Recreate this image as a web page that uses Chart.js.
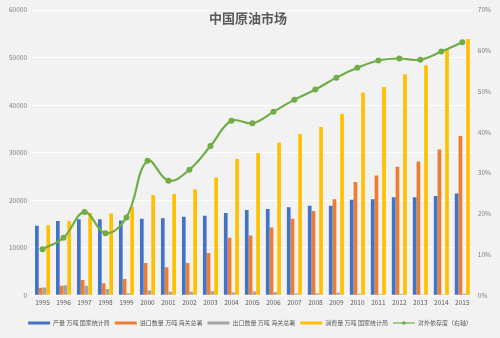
<!DOCTYPE html>
<html>
<head>
<meta charset="utf-8">
<script src="https://cdn.jsdelivr.net/npm/chart.js@4/dist/chart.umd.min.js"></script>
<style>
  html, body { margin: 0; padding: 0; background: #f2f2f2; }
  #wrap { width: 500px; height: 338px; }
</style>
</head>
<body>
<div id="wrap"><canvas id="myChart"></canvas></div>
<script>
const years = ["1995", "1996", "1997", "1998", "1999", "2000", "2001", "2002", "2003", "2004", "2005",
  "2006", "2007", "2008", "2009", "2010", "2011", "2012", "2013", "2014", "2015"];

// 万吨
const production = [14600, 15600, 16000, 16000, 15700, 16100, 16200, 16500, 16700, 17300, 17900,
  18150, 18500, 18800, 18800, 20100, 20200, 20600, 20600, 20850, 21400];
const imports = [1550, 1980, 3200, 2500, 3400, 6750, 5900, 6750, 8870, 12060, 12550,
  14250, 16100, 17700, 20200, 23800, 25200, 27000, 28150, 30650, 33500];
const exports = [1640, 2100, 2000, 1280, 420, 1000, 750, 720, 810, 550, 800,
  630, 380, 420, 500, 300, 250, 240, 160, 60, 290];
const consumption = [14700, 15600, 17300, 17200, 18600, 21100, 21300, 22300, 24750, 28650, 29900,
  32100, 33900, 35400, 38100, 42600, 43800, 46500, 48400, 51800, 53900];

// 对外依存度, %
const dependence = [11.3, 14.1, 20.4, 15.2, 19.1, 33.0, 28.1, 30.8, 36.6, 42.8, 42.2,
  45.0, 48.0, 50.5, 53.4, 55.8, 57.6, 58.1, 57.8, 59.8, 62.1];

const leftTicks = [0, 10000, 20000, 30000, 40000, 50000, 60000];
const rightTicks = [0, 10, 20, 30, 40, 50, 60, 70];

const font = "'Noto Sans CJK SC', 'Noto Sans', sans-serif";
const green = "#70ad47";

// title sits inside the plot area, so draw it by hand;
// also put a marker dot on the line's legend sample
const extrasPlugin = {
  id: "extras",
  afterDraw(chart) {
    const ctx = chart.ctx;
    ctx.save();
    ctx.font = "bold 13px " + font;
    ctx.fillStyle = "#595959";
    ctx.textAlign = "center";
    ctx.textBaseline = "middle";
    ctx.fillText("中国原油市场", 248, 18);

    const legend = chart.legend;
    const items = legend.legendItems;
    const boxes = legend.legendHitBoxes;
    const bw = legend.options.labels.boxWidth;
    items.forEach((item, i) => {
      if (item.datasetIndex !== 4) return;
      const b = boxes[i];
      ctx.fillStyle = green;
      ctx.beginPath();
      ctx.arc(b.left + bw / 2, b.top + b.height / 2, 1.8, 0, Math.PI * 2);
      ctx.fill();
    });
    ctx.restore();
  },
};

function barSet(label, data, color) {
  return {
    type: "bar",
    label: label,
    data: data,
    backgroundColor: color,
    borderWidth: 0,
    yAxisID: "y",
    order: 1,
    categoryPercentage: 0.72,
    barPercentage: 0.98,
  };
}

const ctx = document.getElementById("myChart").getContext("2d");
const myChart = new Chart(ctx, {
  data: {
    labels: years,
    datasets: [
      barSet("产量 万吨 国家统计局", production, "#4472c4"),
      barSet("进口数量 万吨 海关总署", imports, "#ed7d31"),
      barSet("出口数量 万吨 海关总署", exports, "#a5a5a5"),
      barSet("消费量 万吨 国家统计局", consumption, "#ffc000"),
      {
        type: "line",
        label: "对外依存度（右轴）",
        data: dependence,
        borderColor: green,
        backgroundColor: green,
        borderWidth: 2.2,
        tension: 0.4,
        pointRadius: 3,
        pointBorderWidth: 0,
        yAxisID: "y1",
        order: 0,
      },
    ],
  },
  options: {
    responsive: true,
    maintainAspectRatio: false,
    animation: false,
    layout: { padding: { left: 4, right: 4, top: 10, bottom: 2 } },
    plugins: {
      tooltip: { enabled: false },
      legend: {
        position: "bottom",
        labels: {
          usePointStyle: true,
          pointStyleWidth: 22,
          boxWidth: 22,
          boxHeight: 3,
          padding: 5,
          color: "#595959",
          font: { size: 6, family: font },
          sort: (a, b) => a.datasetIndex - b.datasetIndex,
          generateLabels: (chart) => {
            const items = Chart.defaults.plugins.legend.labels.generateLabels(chart);
            items.forEach((it) => {
              if (it.datasetIndex === 4) {
                it.pointStyle = "line";
                it.strokeStyle = green;
                it.lineWidth = 1.2;
              } else {
                it.pointStyle = "rect";
                it.lineWidth = 0;
              }
            });
            return items;
          },
        },
      },
    },
    scales: {
      x: {
        grid: { display: false, drawTicks: false },
        border: { display: false },
        ticks: {
          color: "#595959",
          font: { size: 6.5, family: font },
          maxRotation: 0,
          autoSkip: false,
          padding: 3,
        },
        // leave room between the year labels and the legend
        afterFit: (axis) => { axis.height += 6; },
      },
      y: {
        position: "left",
        min: 0,
        max: 60000,
        afterBuildTicks: (axis) => { axis.ticks = leftTicks.map((v) => ({ value: v })); },
        grid: { color: "#ffffff", lineWidth: 1, drawTicks: false },
        border: { display: false },
        ticks: {
          color: "#7f7f7f",
          font: { size: 6.5, family: font },
          padding: 5,
          callback: (v) => String(v),
        },
      },
      y1: {
        position: "right",
        min: 0,
        max: 70,
        afterBuildTicks: (axis) => { axis.ticks = rightTicks.map((v) => ({ value: v })); },
        grid: { display: false, drawTicks: false },
        border: { display: false },
        ticks: {
          color: "#7f7f7f",
          font: { size: 6.5, family: font },
          padding: 5,
          callback: (v) => v + "%",
        },
      },
    },
  },
  plugins: [extrasPlugin],
});
</script>
</body>
</html>
